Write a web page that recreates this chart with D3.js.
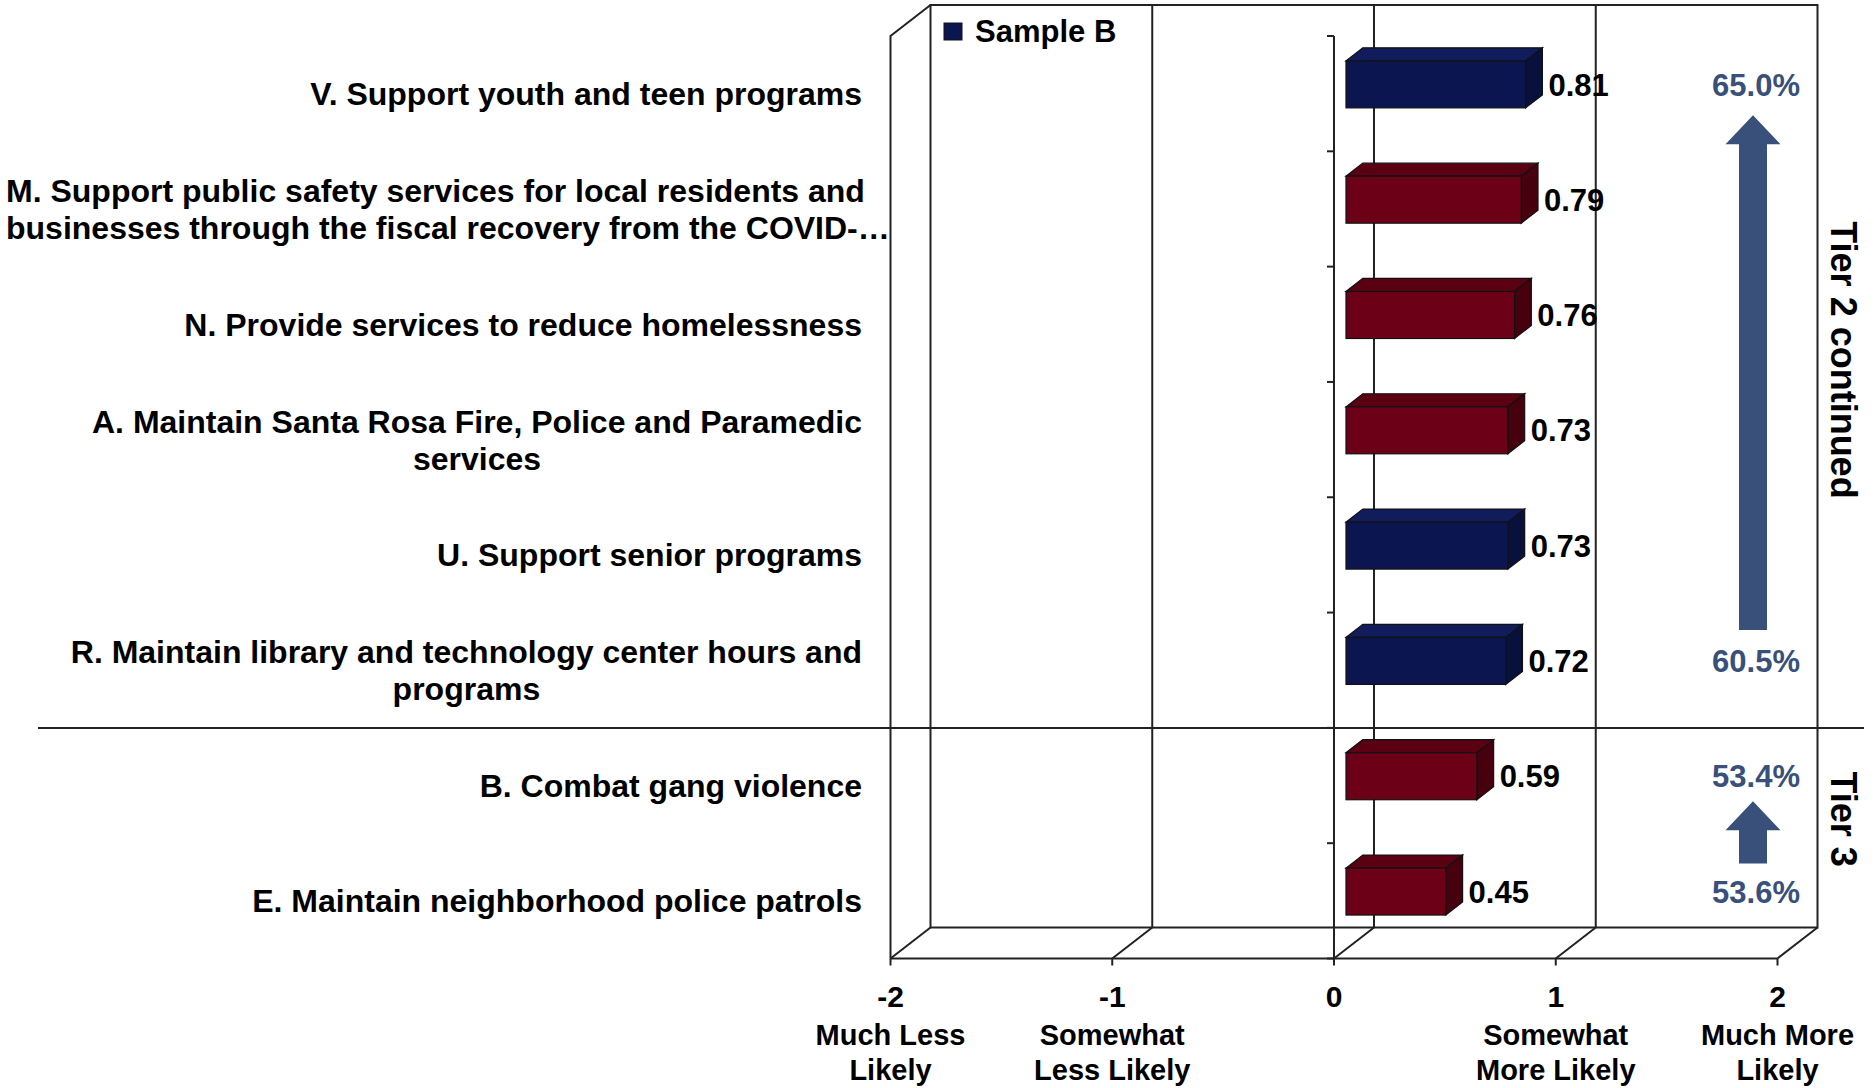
<!DOCTYPE html>
<html><head><meta charset="utf-8">
<script src="https://cdn.jsdelivr.net/npm/d3@7"></script>
<style>
body{margin:0;background:#fff}
svg{display:block}
text{font-family:"Liberation Sans",Arial,Helvetica,sans-serif;font-weight:bold}
</style>
</head><body>
<svg id="chart" width="1874" height="1088"></svg>
<script>
// ---------------- data ----------------
const categories = [
  ["V. Support youth and teen programs"],
  ["M. Support public safety services for local residents and", "businesses through the fiscal recovery from the COVID-\u2026"],
  ["N. Provide services to reduce homelessness"],
  ["A. Maintain Santa Rosa Fire, Police and Paramedic", "services"],
  ["U. Support senior programs"],
  ["R. Maintain library and technology center hours and", "programs"],
  ["B. Combat gang violence"],
  ["E. Maintain neighborhood police patrols"]
];
const values = [0.81, 0.79, 0.76, 0.73, 0.73, 0.72, 0.59, 0.45];
const seriesOf = ["Sample B", "Other", "Other", "Other", "Sample B", "Sample B", "Other", "Other"];
const legendLabels = ["Sample B"];
const tickValues = [-2, -1, 0, 1, 2];
const tickSubLabels = [["Much Less", "Likely"], ["Somewhat", "Less Likely"], [], ["Somewhat", "More Likely"], ["Much More", "Likely"]];
const pctRows = [0, 5, 6, 7];
const pctLabels = ["65.0%", "60.5%", "53.4%", "53.6%"];
const arrowRows = [[5, 0], [7, 6]];          // [from (bottom) row, to (top) row]
const tierLabels = ["Tier 2 continued", "Tier 3"];
const tierRows = [[0, 5], [6, 7]];
const separatorAfterRow = 5;

// ---------------- layout ----------------
const svg = d3.select("#chart");
const DX = 40, DY = 31;                       // depth offset of back wall
const x = d3.scaleLinear().domain([-2, 2]).range([890.5, 1777.5]);
const rowIdx = d3.range(categories.length);
const y = d3.scaleBand().domain(rowIdx).range([36, 958.5]).paddingInner(0).paddingOuter(0);
const bw = y.bandwidth();
const yFront0 = y.range()[0], yFloor = y.range()[1];
const colors = {"Sample B": {front: "#0b1650", top: "#101c5c", side: "#08103c"},
                "Other":    {front: "#6c0016", top: "#5a0012", side: "#46000e"}};
const lineCol = "#222";
const accent = "#38507a";

const g = svg.append("g");

// back wall frame & gridlines
const [xd0, xd1] = x.domain();
g.append("path")
  .attr("d", `M${x(xd0)+DX},${yFloor-DY} L${x(xd0)+DX},${yFront0-DY} L${x(xd1)+DX},${yFront0-DY} L${x(xd1)+DX},${yFloor-DY} Z`)
  .attr("fill", "none").attr("stroke", lineCol).attr("stroke-width", 2);
g.selectAll(".grid").data(tickValues.slice(1, -1)).join("line")
  .attr("x1", d => x(d)+DX).attr("x2", d => x(d)+DX)
  .attr("y1", yFront0-DY).attr("y2", yFloor-DY)
  .attr("stroke", lineCol).attr("stroke-width", 2);

// left wall
g.append("path")
  .attr("d", `M${x(xd0)},${yFloor} L${x(xd0)},${yFront0} L${x(xd0)+DX},${yFront0-DY}`)
  .attr("fill", "none").attr("stroke", lineCol).attr("stroke-width", 2);

// floor
g.append("line").attr("x1", x(xd0)).attr("x2", x(xd1)).attr("y1", yFloor).attr("y2", yFloor)
  .attr("stroke", lineCol).attr("stroke-width", 2);
g.selectAll(".fd").data(tickValues).join("line")
  .attr("x1", d => x(d)).attr("y1", yFloor).attr("x2", d => x(d)+DX).attr("y2", yFloor-DY)
  .attr("stroke", lineCol).attr("stroke-width", 2);
g.selectAll(".ft").data(tickValues).join("line")
  .attr("x1", d => x(d)).attr("x2", d => x(d)).attr("y1", yFloor).attr("y2", yFloor+7)
  .attr("stroke", lineCol).attr("stroke-width", 2);

// category axis at x = 0 (front plane)
g.append("line").attr("x1", x(0)).attr("x2", x(0)).attr("y1", yFront0).attr("y2", yFloor)
  .attr("stroke", lineCol).attr("stroke-width", 2);
g.selectAll(".ct").data(d3.range(categories.length + 1)).join("line")
  .attr("x1", x(0)-7).attr("x2", x(0))
  .attr("y1", d => yFront0 + d*bw).attr("y2", d => yFront0 + d*bw)
  .attr("stroke", lineCol).attr("stroke-width", 2);

// bars (3D)
const t1 = 0.3, t2 = 0.72, barH = 47;
const ddx = (t2-t1)*DX, ddy = (t2-t1)*DY;
const bars = g.selectAll(".bar").data(rowIdx).join("g");
bars.each(function(i) {
  const sel = d3.select(this);
  const c = colors[seriesOf[i]];
  const yc = y(i) + bw/2 - t1*DY;
  const x0 = x(0) + t1*DX, x1 = x(values[i]) + t1*DX;
  const yT = yc - barH/2, yB = yc + barH/2;
  sel.append("polygon")
    .attr("points", [[x0,yT],[x1,yT],[x1+ddx,yT-ddy],[x0+ddx,yT-ddy]].join(" "))
    .attr("fill", c.top).attr("stroke", "#111").attr("stroke-width", 1.2);
  sel.append("polygon")
    .attr("points", [[x1,yT],[x1+ddx,yT-ddy],[x1+ddx,yB-ddy],[x1,yB]].join(" "))
    .attr("fill", c.side).attr("stroke", "#111").attr("stroke-width", 1.2);
  sel.append("rect").attr("x", x0).attr("y", yT).attr("width", x1-x0).attr("height", barH)
    .attr("fill", c.front).attr("stroke", "#111").attr("stroke-width", 1.2);
  sel.append("text").attr("x", x1+ddx+6).attr("y", yc).attr("dy", "0.36em")
    .attr("font-size", 31).attr("fill", "#000").text(values[i].toFixed(2));
});

// category labels
const labelRight = 862, lineGap = 37, minLeft = 6;
rowIdx.forEach(i => {
  const lines = categories[i];
  const yc = y(i) + bw/2;
  const tg = svg.append("g");
  const ts = lines.map((s, k) => tg.append("text").attr("font-size", 32).attr("fill", "#000")
      .attr("y", yc - (lines.length-1)*lineGap/2 + k*lineGap).attr("dy", "0.36em").text(s));
  if (lines.length === 1) {
    ts[0].attr("x", labelRight).attr("text-anchor", "end");
  } else {
    const w0 = ts[0].node().getComputedTextLength();
    const cx = labelRight - w0/2;
    ts.forEach(t => {
      const w = t.node().getComputedTextLength();
      t.attr("x", Math.max(cx, minLeft + w/2)).attr("text-anchor", "middle");
    });
  }
});

// separator
svg.append("line").attr("x1", 38).attr("x2", 1864)
  .attr("y1", y(separatorAfterRow) + bw).attr("y2", y(separatorAfterRow) + bw)
  .attr("stroke", lineCol).attr("stroke-width", 2);

// x tick labels
const xt = svg.append("g");
tickValues.forEach((v, k) => {
  xt.append("text").attr("x", x(v)).attr("y", 1007).attr("text-anchor", "middle")
    .attr("font-size", 30).text(v);
  tickSubLabels[k].forEach((s, j) => {
    xt.append("text").attr("x", x(v)).attr("y", 1045 + j*35).attr("text-anchor", "middle")
      .attr("font-size", 29).text(s);
  });
});

// legend
const leg = svg.append("g");
legendLabels.forEach((s, k) => {
  leg.append("rect").attr("x", 944).attr("y", 23 + k*36).attr("width", 18).attr("height", 17)
    .attr("fill", colors[s].front).attr("stroke", "#111").attr("stroke-width", 1);
  leg.append("text").attr("x", 975).attr("y", 31 + k*36).attr("dy", "0.36em")
    .attr("font-size", 31).text(s);
});

// percentage annotations
const pctX = 1756;
pctRows.forEach((r, k) => {
  svg.append("text").attr("x", pctX).attr("y", y(r) + bw/2 - t1*DY).attr("dy", "0.36em")
    .attr("text-anchor", "middle").attr("font-size", 31).attr("fill", accent).text(pctLabels[k]);
});

// arrows
const ax = 1753, shaftW = 28, headW = 55, headH = 29;
const tipOff = [31, 25], baseOff = [31, 28];
arrowRows.forEach(([from, to], k) => {
  const tip = y(to) + bw/2 - t1*DY + tipOff[k];
  const bottom = y(from) + bw/2 - t1*DY - baseOff[k];
  const pts = [[ax, tip], [ax+headW/2, tip+headH], [ax+shaftW/2, tip+headH], [ax+shaftW/2, bottom],
               [ax-shaftW/2, bottom], [ax-shaftW/2, tip+headH], [ax-headW/2, tip+headH]];
  svg.append("polygon").attr("points", pts.join(" ")).attr("fill", accent);
});

// tier labels
const tierY = [-22, -24];
tierRows.forEach(([a, b], k) => {
  const cy = (y(a) + y(b) + bw)/2 + tierY[k];
  svg.append("text").attr("transform", `translate(1844,${cy}) rotate(90)`)
    .attr("text-anchor", "middle").attr("dy", "0.36em").attr("font-size", 36).text(tierLabels[k]);
});
</script>
</body></html>
